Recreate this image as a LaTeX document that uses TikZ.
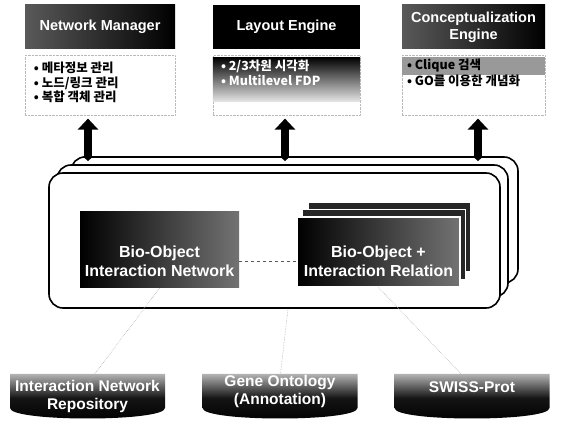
\documentclass[tikz,border=0pt]{standalone}
\usepackage{fontspec}
\setmainfont{Liberation Sans}
\newfontfamily\kor{Noto Sans CJK KR}
\usetikzlibrary{positioning,arrows.meta}

\begin{document}
\begin{tikzpicture}[
  x=1pt, y=-1pt,
  every node/.style={inner sep=0pt, font=\bfseries},
  header/.style={minimum height=44pt, text=white, align=center,
    font=\fontsize{14.5}{17}\selectfont\bfseries},
  bodyframe/.style={minimum height=60pt, draw=gray!55, densely dotted},
  bullets/.style={align=left, anchor=north west,
    font=\kor\fontsize{12.5}{14.5}\selectfont\bfseries},
  layer/.style={draw, line width=1.6pt, rounded corners=14pt, fill=white},
  sheet/.style={minimum width=163pt, minimum height=70pt, fill=black!85,
    draw=white, line width=1.2pt},
  boxtext/.style={text=white, align=center,
    font=\fontsize{16}{19}\selectfont\bfseries},
  cylfill/.style={top color=black!30, bottom color=black, middle color=black!92},
  fatarrow/.style={line width=8.5pt,
    {Triangle[width=10pt,length=5pt]}-{Triangle[width=20pt,length=11pt]}},
  faintlink/.style={gray!60, densely dotted, line width=0.6pt}
]
\useasboundingbox (0,0) rectangle (563,422);

% engines on top
\node[header, minimum width=150pt, left color=black!65, right color=black] (netman) at (100,27) {Network Manager};
\node[header, minimum width=147pt, fill=black] (layout) at (286.5,27) {Layout Engine};
\node[header, minimum width=143pt, left color=black!65, right color=black] (concept) at (473.5,27) {Conceptualization\\Engine};

\node[bodyframe, minimum width=150pt, below=6pt of netman] (nmbody) {};
\node[bodyframe, minimum width=147pt, below=6pt of layout] (lebody) {};
\node[bodyframe, minimum width=143pt, below=6pt of concept] (cebody) {};

\shade[top color=black, middle color=black!88, bottom color=black!10]
  ([yshift=-2pt]lebody.north west) rectangle ([yshift=14pt]lebody.south east);
\fill[black!40] ([yshift=-2pt]cebody.north west) rectangle ([yshift=-20pt]cebody.north east);

\node[bullets] (nmlist) at ([xshift=9pt,yshift=-7pt]nmbody.north west)
  {• 메타정보 관리\\• 노드/링크 관리\\• 복합 객체 관리};
\node[bullets, text=white, font=\kor\fontsize{12.5}{15}\selectfont\bfseries] (lelist)
  at ([xshift=8pt,yshift=-5pt]lebody.north west) {• 2/3차원 시각화\\• Multilevel FDP};
\node[bullets, font=\kor\fontsize{12.5}{16}\selectfont\bfseries] (celist)
  at ([xshift=5pt,yshift=-4pt]cebody.north west) {• Clique 검색\\• GO를 이용한 개념화};

% stacked container
\node[layer, minimum width=447pt, minimum height=126pt] (stackback) at (294.5,220) {};
\node[layer, minimum width=451pt, minimum height=132pt] (stackmid) at (282.5,231) {};
\node[layer, minimum width=451pt, minimum height=135pt] (stackfront) at (274.5,240.5) {};

\coordinate (nmarrow) at (88,0);
\coordinate (learrow) at (285,0);
\coordinate (cearrow) at (478,0);
\foreach \a/\b in {nmarrow/nmbody, learrow/lebody, cearrow/cebody}
  \draw[fatarrow] ([yshift=-5pt]\a |- stackback.north) -- ([yshift=-3pt]\a |- \b.south);

\node[minimum width=159pt, minimum height=76pt, left color=black, right color=black!55] (bionet) at (159.5,250) {};
\node[boxtext] (bionetlabel) at ([yshift=-11pt]bionet.center) {Bio-Object\\Interaction Network};

\node[sheet] (relback) at (389.5,237) {};
\node[sheet] (relmid) at (384,244.5) {};
\node[sheet, left color=black, right color=black!55] (biorel) at (378.5,252) {};
\node[boxtext] (biorellabel) at ([yshift=-9pt]biorel.center) {Bio-Object +\\Interaction Relation};

\draw[dashed, gray!70!black] (bionet.east |- biorellabel.center) -- (biorel.west |- biorellabel.center);

% repositories
\foreach \cx/\ty/\name/\txt in {87.5/396/netrepo/{Interaction Network\\Repository},
    280/391/gorepo/{Gene Ontology\\(Annotation)}, 472/387/swissrepo/{SWISS-Prot}} {
  \shade[cylfill] (\cx-77.5,374) -- (\cx+77.5,374) -- (\cx+77.5,408)
    .. controls (\cx+77.5,422) and (\cx-77.5,422) .. (\cx-77.5,408) -- cycle;
  \node[boxtext, font=\fontsize{15.5}{18}\selectfont\bfseries] (\name) at (\cx,\ty) {\txt};
}

\draw[faintlink] (bionet.south) -- ([yshift=-4pt]netrepo.north);
\draw[faintlink] ([xshift=8pt]gorepo.north |- stackfront.south) -- ([yshift=-4pt]gorepo.north);
\draw[faintlink] (biorel.south) -- ([yshift=-4pt]swissrepo.north);

\end{tikzpicture}
\end{document}
